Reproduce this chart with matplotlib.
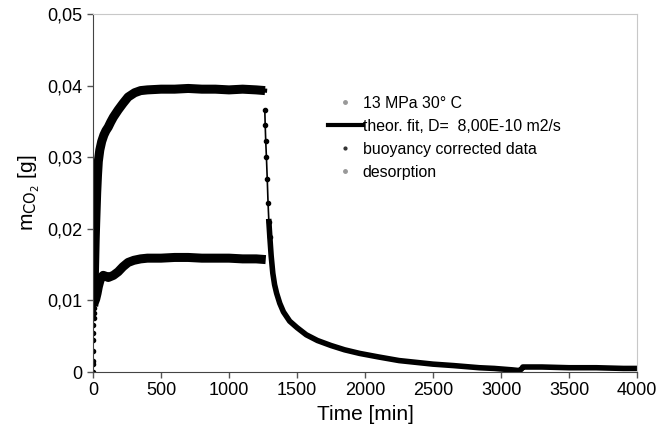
import matplotlib
matplotlib.use("Agg")
import matplotlib.pyplot as plt
from matplotlib.ticker import FuncFormatter, MultipleLocator
from matplotlib.lines import Line2D

plt.rcParams['font.family'] = ['Liberation Sans', 'DejaVu Sans']

# upper adsorption curve (buoyancy corrected)
t_up = [4, 7, 10, 13, 16, 20, 27, 33, 39, 50, 64, 80, 95, 112, 130, 150, 185, 220, 258,
        306, 350, 400, 500, 600, 700, 800, 900, 1000, 1100, 1200, 1265]
m_up = [0.0100, 0.0115, 0.0135, 0.0160, 0.0185, 0.0210, 0.0250, 0.0275, 0.0294, 0.0310,
        0.0322, 0.0331, 0.0337, 0.0342, 0.0349, 0.0356, 0.0366, 0.0375, 0.0384, 0.0390,
        0.0393, 0.0394, 0.0395, 0.0395, 0.0396, 0.0395, 0.0395, 0.0394, 0.0395, 0.0394,
        0.0393]

# lower adsorption curve (raw data 13 MPa 30 C)
t_lo = [5, 8, 12, 20, 30, 39, 50, 60, 75, 90, 112, 150, 185, 220, 258, 300, 350, 400,
        500, 600, 700, 800, 900, 1000, 1100, 1200, 1270]
m_lo = [0.0092, 0.0096, 0.0098, 0.0102, 0.0110, 0.0119, 0.0127, 0.0132, 0.0135, 0.0134,
        0.0132, 0.0135, 0.0140, 0.0147, 0.0153, 0.0156, 0.0158, 0.0159, 0.0159, 0.0160,
        0.0160, 0.0159, 0.0159, 0.0159, 0.0158, 0.0158, 0.0157]

# sparse start points of the lower curve
t_st = [0, 0, 1, 1, 2, 2, 3, 4, 4, 5]
m_st = [0.0, 0.0011, 0.0015, 0.0030, 0.0045, 0.0055, 0.0065, 0.0075, 0.0083, 0.0090]

# desorption curve
t_de = [1263, 1266, 1270, 1275, 1281, 1287, 1293, 1300, 1310, 1322, 1335, 1350, 1373,
        1400, 1446, 1500, 1568, 1650, 1750, 1850, 1960, 2100, 2250, 2400, 2500, 2650,
        2840, 2950, 3083, 3135, 3150, 3160, 3300, 3500, 3700, 3900, 4000]
m_de = [0.0366, 0.0345, 0.0322, 0.0300, 0.0270, 0.0236, 0.0210, 0.0189, 0.0162, 0.0138,
        0.0122, 0.0110, 0.0096, 0.0084, 0.0071, 0.0062, 0.0052, 0.0044, 0.0037, 0.0031,
        0.0026, 0.0021, 0.0016, 0.0013, 0.0011, 0.0009, 0.0006, 0.0005, 0.0003, 0.0002,
        0.0004, 0.0007, 0.0007, 0.0006, 0.0006, 0.0005, 0.0005]

fig = plt.figure(figsize=(6.72, 4.37), dpi=100)
ax = fig.add_axes([0.1384, 0.1487, 0.8096, 0.8193])

ax.plot(t_lo, m_lo, color='black', lw=6.5, solid_capstyle='butt', solid_joinstyle='round')
ax.plot(t_up, m_up, color='black', lw=6.5, solid_capstyle='butt', solid_joinstyle='round')
ax.plot(t_up, m_up, color='black', lw=3)
ax.plot(t_st, m_st, 'o', color='black', ms=3)
ax.plot(t_de[:8], m_de[:8], 'o', color='black', ms=3)
ax.plot(t_de[:8], m_de[:8], '-', color='black', lw=1.2)
ax.plot(t_de[6:], m_de[6:], color='black', lw=4, solid_joinstyle='round')

ax.set_xlim(0, 4000)
ax.set_ylim(0, 0.05)
ax.xaxis.set_major_locator(MultipleLocator(500))
ax.yaxis.set_major_locator(MultipleLocator(0.01))
ax.yaxis.set_major_formatter(FuncFormatter(
    lambda v, p: '0' if abs(v) < 1e-9 else f'{v:.2f}'.replace('.', ',')))
ax.tick_params(direction='out', length=4, width=1, labelsize=13, color='#555555')
for s in ['top', 'right']:
    ax.spines[s].set_color('#c8c8c8')
for s in ['left', 'bottom']:
    ax.spines[s].set_color('#444444')

ax.set_xlabel('Time [min]', fontsize=15)
ax.set_ylabel(r'm$_{\mathrm{CO_2}}$ [g]', fontsize=15)

handles = [
    Line2D([], [], ls='', marker='o', ms=2.5, color='#999999'),
    Line2D([], [], color='black', lw=3),
    Line2D([], [], ls='', marker='o', ms=2, color='#333333'),
    Line2D([], [], ls='', marker='o', ms=2.5, color='#999999'),
]
labels = ['13 MPa 30° C', 'theor. fit, D=  8,00E-10 m2/s', 'buoyancy corrected data', 'desorption']
ax.legend(handles, labels, loc='upper left', bbox_to_anchor=(0.42, 0.789), frameon=False,
          fontsize=11.4, handlelength=2.2, handletextpad=0.0, labelspacing=0.5, borderaxespad=0)

fig.savefig('out.png', dpi=100)
